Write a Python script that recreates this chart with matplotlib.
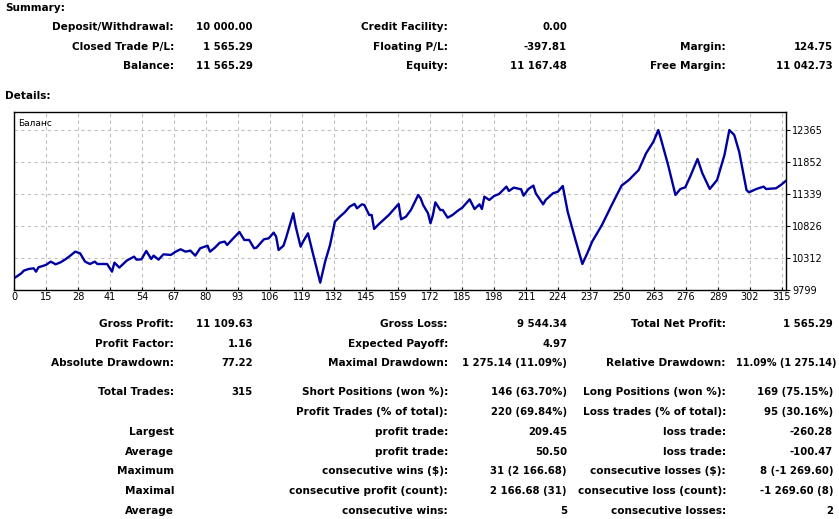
import numpy as np
import matplotlib
matplotlib.use("Agg")
from matplotlib import pyplot as plt

# Balance curve (trade number, balance)
trades = [0, 2, 3, 4, 6, 8, 9, 10, 13, 15, 17, 19, 21, 23, 25, 27, 29, 31, 33, 34,
          38, 40, 41, 43, 46, 49, 50, 52, 54, 56, 57, 59, 61, 64, 66, 68, 70, 72, 74, 76,
          79, 80, 82, 84, 86, 87, 89, 92, 94, 96, 98, 99, 102, 104, 106, 107, 108, 110, 111, 113,
          114, 115, 117, 118, 120, 122, 125, 127, 129, 131, 133, 135, 137, 139, 140, 142, 143, 145, 146, 147,
          149, 153, 157, 158, 160, 162, 164, 165, 166, 167, 169, 170, 171, 172, 174, 175, 177, 179, 181, 183,
          186, 188, 190, 191, 192, 194, 196, 198, 201, 202, 204, 207, 208, 210, 212, 213, 216, 217, 220, 222,
          224, 226, 229, 232, 234, 236, 240, 244, 248, 251, 255, 258, 261, 263, 264, 267, 270, 272, 274, 276,
          279, 281, 284, 287, 290, 292, 294, 296, 299, 300, 303, 306, 307, 311, 313, 315]
balance = [9991, 10045, 10072, 10114, 10141, 10152, 10098, 10168, 10205, 10259, 10216, 10248, 10296, 10355, 10419, 10392, 10259, 10221, 10259, 10221,
           10221, 10098, 10243, 10163, 10275, 10339, 10291, 10296, 10430, 10302, 10355, 10291, 10376, 10366, 10419, 10457, 10419, 10435, 10355, 10473,
           10515, 10419, 10483, 10563, 10580, 10526, 10612, 10735, 10606, 10606, 10473, 10483, 10617, 10633, 10724, 10660, 10446, 10515, 10633, 10900,
           11034, 10820, 10499, 10580, 10713, 10392, 9922, 10259, 10526, 10900, 10980, 11050, 11141, 11184, 11114, 11178, 11168, 11007, 11007, 10783,
           10863, 11007, 11184, 10938, 10980, 11087, 11248, 11328, 11274, 11168, 11034, 10874, 11007, 11210, 11087, 11087, 10964, 11007, 11071, 11125,
           11258, 11103, 11178, 11103, 11301, 11248, 11312, 11344, 11462, 11392, 11446, 11419, 11317, 11424, 11478, 11355, 11178, 11248, 11355, 11381,
           11472, 11061, 10633, 10221, 10392, 10580, 10847, 11168, 11478, 11569, 11729, 11996, 12183, 12370, 12237, 11809, 11328, 11424, 11451, 11622,
           11905, 11675, 11424, 11569, 11969, 12370, 12290, 12023, 11408, 11371, 11424, 11462, 11424, 11435, 11488, 11552]

x_tick_labels = ['0', '15', '28', '41', '54', '67', '80', '93', '106', '119', '132', '145', '159',
                 '172', '185', '198', '211', '224', '237', '250', '263', '276', '289', '302', '315']
y_ticks = [9799, 10312, 10826, 11339, 11852, 12365]

summary_rows = [
    [('Deposit/Withdrawal:', '10 000.00'), ('Credit Facility:', '0.00'), None],
    [('Closed Trade P/L:', '1 565.29'), ('Floating P/L:', '-397.81'), ('Margin:', '124.75')],
    [('Balance:', '11 565.29'), ('Equity:', '11 167.48'), ('Free Margin:', '11 042.73')],
]
details_rows = [
    [('Gross Profit:', '11 109.63'), ('Gross Loss:', '9 544.34'), ('Total Net Profit:', '1 565.29')],
    [('Profit Factor:', '1.16'), ('Expected Payoff:', '4.97'), None],
    [('Absolute Drawdown:', '77.22'), ('Maximal Drawdown:', '1 275.14 (11.09%)'), ('Relative Drawdown:', '11.09% (1 275.14)')],
    [('Total Trades:', '315'), ('Short Positions (won %):', '146 (63.70%)'), ('Long Positions (won %):', '169 (75.15%)')],
    [None, ('Profit Trades (% of total):', '220 (69.84%)'), ('Loss trades (% of total):', '95 (30.16%)')],
    [('Largest', ''), ('profit trade:', '209.45'), ('loss trade:', '-260.28')],
    [('Average', ''), ('profit trade:', '50.50'), ('loss trade:', '-100.47')],
    [('Maximum', ''), ('consecutive wins ($):', '31 (2 166.68)'), ('consecutive losses ($):', '8 (-1 269.60)')],
    [('Maximal', ''), ('consecutive profit (count):', '2 166.68 (31)'), ('consecutive loss (count):', '-1 269.60 (8)')],
    [('Average', ''), ('consecutive wins:', '5'), ('consecutive losses:', '2')],
]

W, H = 839, 519
fig = plt.figure(figsize=(W / 100, H / 100), dpi=100)
fig.patch.set_facecolor('white')

FONT = 'DejaVu Sans'


def put(x, y, s, ha='right', size=7.6):
    fig.text(x / W, 1 - y / H, s, ha=ha, va='center', fontsize=size,
             fontweight='bold', family=FONT)


label_x = [174, 448, 726]
value_x = [253, 567, 833]


def table(rows, ys):
    for row, y in zip(rows, ys):
        for col, cell in enumerate(row):
            if cell is None:
                continue
            put(label_x[col], y, cell[0])
            if not cell[1]:
                continue
            # the relative drawdown value is wider than its cell, it runs to the page edge
            if col == 2 and cell[0].startswith('Relative'):
                put(836, y, cell[1], size=7.0)
            else:
                put(value_x[col], y, cell[1], size=7.3)


put(5, 8, 'Summary:', ha='left')
table(summary_rows, [27, 47, 66])
put(5, 96, 'Details:', ha='left')
table(details_rows, [324, 344, 363, 392, 412, 432, 452, 471, 491, 511])

# Balance chart
ax = fig.add_axes([14 / W, 1 - 290.3 / H, 771.7 / W, 178.6 / H])
ax.plot(trades, balance, color='#0000a0', lw=1.7, solid_joinstyle='round')
ax.set_xlim(0, 315)
ax.set_ylim(9799, 12664)

step = 315 * 32 / 771.7
ax.set_xticks(np.arange(len(x_tick_labels)) * step)
ax.set_xticklabels(x_tick_labels)
ax.set_yticks(y_ticks)
ax.set_yticklabels([str(v) for v in y_ticks])
ax.yaxis.tick_right()
ax.tick_params(axis='both', labelsize=7, length=3, width=0.8, pad=1.5, colors='black')
ax.tick_params(axis='x', direction='in', length=2)
ax.grid(True, color='#c0c0c0', linestyle=(0, (3, 3)), lw=0.8)
for sp in ax.spines.values():
    sp.set_color('black')
    sp.set_linewidth(1.0)
ax.text(0.005, 0.96, 'Баланс', transform=ax.transAxes, fontsize=6.5,
        va='top', ha='left', family=FONT)

fig.savefig('out.png', dpi=100)
